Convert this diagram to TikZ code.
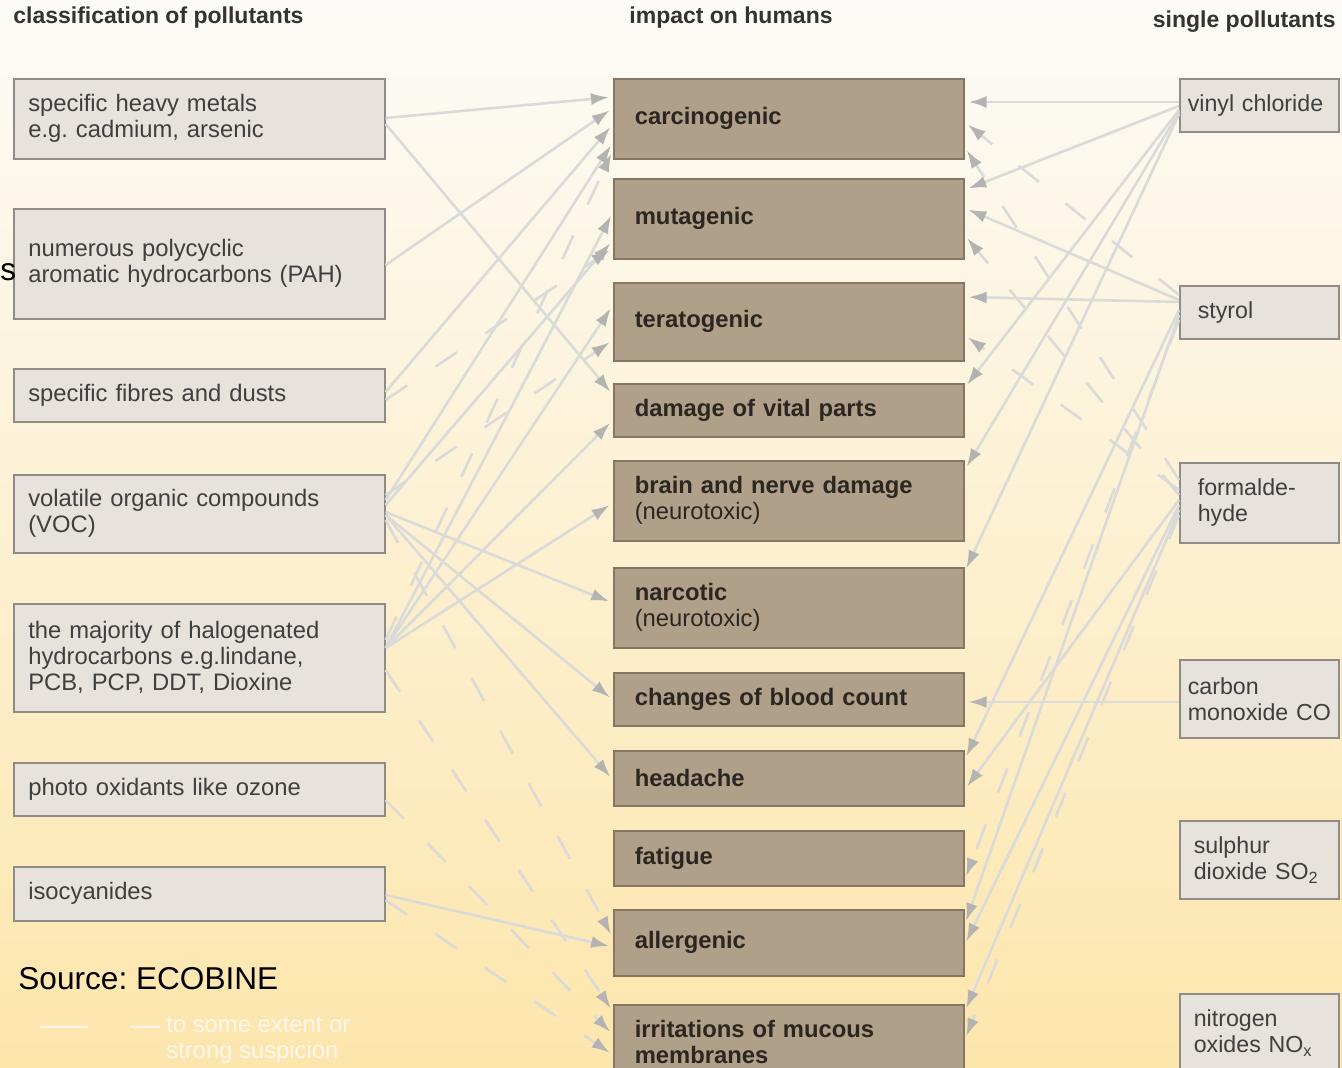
\documentclass[tikz,border=0pt]{standalone}
\usepackage{fontspec}
\setmainfont{Liberation Sans}
\usetikzlibrary{positioning,calc,arrows.meta}

\definecolor{paper}{HTML}{FCFBF7}
\definecolor{papermid}{HTML}{FCF2DD}
\definecolor{paperlow}{HTML}{FDE6AC}
\definecolor{srcfill}{HTML}{E7E3DC}
\definecolor{srcedge}{HTML}{8F8C87}
\definecolor{efffill}{HTML}{B0A089}
\definecolor{effedge}{HTML}{857763}
\definecolor{linegrey}{HTML}{DADAD8}
\definecolor{tipgrey}{HTML}{B3B3B1}
\definecolor{txtgrey}{HTML}{3F3F3F}
\definecolor{efftxt}{HTML}{2B2620}
\definecolor{headgrey}{HTML}{333333}
\definecolor{legwhite}{HTML}{FBF7EE}

\newcommand{\boxfont}{\fontsize{11.9}{13}\selectfont}
\newcommand{\headfont}{\fontsize{11.5}{13}\selectfont\bfseries}
\frenchspacing

\begin{document}
\begin{tikzpicture}[x=0.5pt,y=-0.5pt,
    srcbox/.style={anchor=north west, draw=srcedge, fill=srcfill, line width=0.8pt,
        minimum width=185.5pt, text width=171pt, inner xsep=7.25pt, inner ysep=0pt,
        align=left, font=\boxfont, text=txtgrey},
    effbox/.style={anchor=north west, draw=effedge, fill=efffill, line width=0.8pt,
        minimum width=175pt, text width=154pt, inner xsep=10.5pt, inner ysep=0pt,
        align=left, font=\boxfont\bfseries, text=efftxt},
    subbox/.style={anchor=north west, draw=srcedge, fill=srcfill, line width=0.8pt,
        minimum width=79.5pt, text width=71.5pt, inner xsep=4pt, inner ysep=0pt,
        align=left, font=\fontsize{11.6}{13}\selectfont, text=txtgrey},
    heading/.style={font=\headfont, text=headgrey, inner sep=0pt},
    link/.style={draw=linegrey, line width=1.3pt, shorten >=2pt,
        -{Latex[length=9pt,width=6pt,color=tipgrey]}},
    maybe/.style={link, dash pattern=on 13pt off 17pt},
    legline/.style={draw=legwhite, line width=1.2pt}]

    \clip (0,0) rectangle (1342,1068);
    \shade[top color=paper, middle color=papermid, bottom color=paperlow] (0,0) rectangle (1342,1068);

    % Headings
    \node[heading, anchor=west] (hsrc) at (13,18) {classification of pollutants};
    \node[heading, anchor=west] (heff) at (629,18) {impact on humans};
    \node[heading, anchor=east] (hsub) at (1336,22) {single pollutants};

    % Classes of pollutants
    \node[srcbox, minimum height=40pt]   (heavy)  at (13,78)  {specific heavy metals\\e.g. cadmium, arsenic};
    \node[srcbox, minimum height=55pt]   (pah)    at (13,208) {numerous polycyclic\\aromatic hydrocarbons (PAH)};
    \node[srcbox, minimum height=26.5pt] (fibres) at (13,368) {specific fibres and dusts};
    \node[srcbox, minimum height=39pt]   (voc)    at (13,474) {volatile organic compounds\\(VOC)};
    \node[srcbox, minimum height=54pt]   (halo)   at (13,603) {the majority of halogenated\\hydrocarbons e.g.lindane,\\PCB, PCP, DDT, Dioxine};
    \node[srcbox, minimum height=26.5pt] (photo)  at (13,762) {photo oxidants like ozone};
    \node[srcbox, minimum height=27pt]   (iso)    at (13,866) {isocyanides};

    % Impact on humans
    \node[effbox, minimum height=40pt]   (carc)    at (613,78)   {carcinogenic};
    \node[effbox, minimum height=40pt]   (mut)     at (613,178)  {mutagenic};
    \node[effbox, minimum height=39pt]   (tera)    at (613,282)  {teratogenic};
    \node[effbox, minimum height=26.5pt] (dmg)     at (613,383)  {damage of vital parts};
    \node[effbox, minimum height=40pt]   (brain)   at (613,460)  {brain and nerve damage\\\mdseries(neurotoxic)};
    \node[effbox, minimum height=40pt]   (narc)    at (613,567)  {narcotic\\\mdseries(neurotoxic)};
    \node[effbox, minimum height=26.5pt] (blood)   at (613,672)  {changes of blood count};
    \node[effbox, minimum height=27.5pt] (head)    at (613,750)  {headache};
    \node[effbox, minimum height=27.5pt] (fatigue) at (613,830)  {fatigue};
    \node[effbox, minimum height=33pt]   (allerg)  at (613,909)  {allergenic};
    \node[effbox, minimum height=37pt]   (irrit)   at (613,1004) {irritations of mucous\\membranes};

    % Single pollutants
    \node[subbox, minimum height=26.5pt] (vinyl)  at (1179,78)  {vinyl~chloride};
    \node[subbox, minimum height=26.5pt] (styrol) at (1179,285) {\hspace*{5pt}styrol};
    \node[subbox, minimum height=40pt]   (formal) at (1179,462) {\hspace*{5pt}formalde-\\\hspace*{5pt}hyde};
    \node[subbox, minimum height=39pt]   (co)     at (1179,659) {carbon\\monoxide~CO};
    \node[subbox, minimum height=39pt]   (so2)    at (1179,820) {\hspace*{3pt}sulphur\\\hspace*{3pt}dioxide~SO\textsubscript{2}};
    \node[subbox, minimum height=39pt]   (nox)    at (1179,993) {\hspace*{3pt}nitrogen\\\hspace*{3pt}oxides~NO\textsubscript{x}};

    % Edges from the classes
    \draw[link] (heavy.east |- 0,118) -- (carc.west |- 0,97);
    \draw[link] (heavy.east |- 0,124) -- (dmg.west |- 0,395);
    \draw[link] (pah.east |- 0,265) -- (carc.west |- 0,108);
    \draw[link] (fibres.east |- 0,392) -- (carc.west |- 0,124);
    \draw[link] (voc.east |- 0,500) -- (carc.west |- 0,142);
    \draw[link] (voc.east |- 0,505) -- (mut.west |- 0,240);
    \draw[link] (halo.east |- 0,648) -- (mut.west |- 0,212);
    \draw[link] (halo.east |- 0,648) -- (tera.west |- 0,305);
    \draw[link] (halo.east |- 0,648) -- (dmg.west |- 0,420);
    \draw[link] (halo.east |- 0,648) -- (brain.west |- 0,503);
    \draw[link] (voc.east |- 0,512) -- (narc.west |- 0,603);
    \draw[link] (voc.east |- 0,515) -- (blood.west |- 0,700);
    \draw[link] (voc.east |- 0,515) -- (head.west |- 0,780);
    \draw[link] (iso.east |- 0,895) -- (allerg.west |- 0,947);
    \draw[maybe] (fibres.east |- 0,400) -- (mut.west |- 0,248);
    \draw[maybe] (halo.east |- 0,640) -- (carc.west |- 0,150);
    \draw[maybe] (voc.east |- 0,495) -- (tera.west |- 0,340);
    \draw[maybe] (voc.east |- 0,520) -- (allerg.west |- 0,938);
    \draw[maybe] (halo.east |- 0,670) -- (irrit.west |- 0,1012);
    \draw[maybe] (photo.east |- 0,800) -- (irrit.west |- 0,1035);
    \draw[maybe] (iso.east |- 0,900) -- (irrit.west |- 0,1055);

    % Edges from the single pollutants
    \draw[link] (vinyl.west |- 0,102) -- (carc.east |- 0,102);
    \draw[link] (vinyl.west |- 0,106) -- (mut.east |- 0,190);
    \draw[link] (vinyl.west |- 0,110) -- (dmg.east |- 0,388);
    \draw[link] (vinyl.west |- 0,112) -- (brain.east |- 0,470);
    \draw[link] (vinyl.west |- 0,114) -- (narc.east |- 0,572);
    \draw[link] (styrol.west |- 0,300) -- (mut.east |- 0,208);
    \draw[link] (styrol.west |- 0,302) -- (tera.east |- 0,297);
    \draw[link] (styrol.west |- 0,310) -- (head.east |- 0,760);
    \draw[link] (styrol.west |- 0,315) -- (allerg.east |- 0,925);
    \draw[link] (formal.west |- 0,500) -- (head.east |- 0,790);
    \draw[link] (formal.west |- 0,505) -- (allerg.east |- 0,945);
    \draw[link] (formal.west |- 0,510) -- (irrit.east |- 0,1012);
    \draw[link] (co.west |- 0,702) -- (blood.east |- 0,702);
    \draw[maybe] (styrol.west |- 0,295) -- (carc.east |- 0,122);
    \draw[maybe] (formal.west |- 0,480) -- (carc.east |- 0,147);
    \draw[maybe] (formal.west |- 0,495) -- (mut.east |- 0,235);
    \draw[maybe] (formal.west |- 0,490) -- (tera.east |- 0,335);
    \draw[maybe] (styrol.west |- 0,320) -- (fatigue.east |- 0,880);
    \draw[maybe] (formal.west |- 0,515) -- (irrit.east |- 0,1040);

    % Source and legend
    \node[anchor=west, inner sep=0pt, font=\fontsize{15.8}{18}\selectfont] (frag) at (0,272) {s};
    \node[anchor=west, inner sep=0pt, font=\fontsize{15.8}{18}\selectfont] (source) at (18,979) {Source: ECOBINE};
    \coordinate (lgA) at (40,1027);
    \coordinate (lgB) at (88,1027);
    \coordinate (lgC) at (130,1027);
    \coordinate (lgD) at (160,1027);
    \draw[legline] (lgA) -- (lgB);
    \draw[legline] (lgC) -- (lgD);
    \node[anchor=west, inner sep=0pt, align=left, font=\boxfont, text=legwhite] (legtxt) at (166,1040) {to some extent or\\strong suspicion};
\end{tikzpicture}
\end{document}
